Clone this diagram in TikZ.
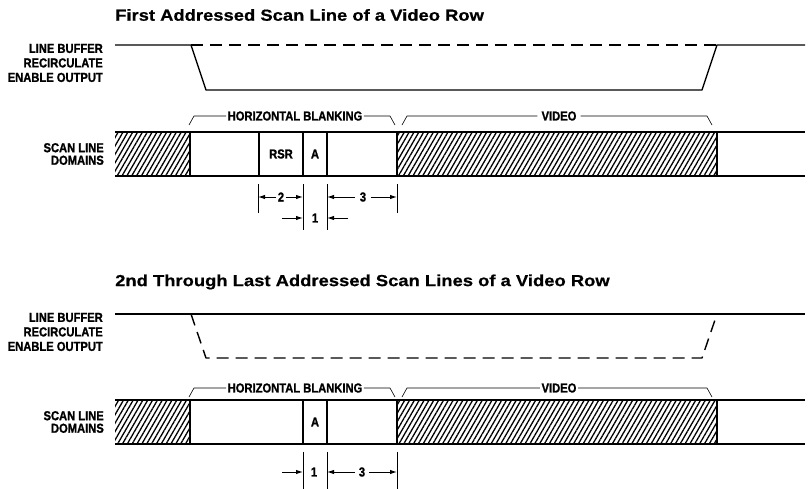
\documentclass[tikz,border=0pt]{standalone}
\usepackage{fontspec}
\setmainfont{Liberation Sans}
\newfontfamily\titlefont[FakeStretch=1.15, FakeBold=0.6]{Liberation Sans Bold}
\newfontfamily\condfont[FakeStretch=0.86, FakeBold=1.2]{Liberation Sans Bold}
\usetikzlibrary{arrows.meta, patterns.meta}

\begin{document}
\begin{tikzpicture}[
    x=1pt, y=-1pt,
    title/.style={anchor=west, inner sep=0pt, font=\titlefont\fontsize{16}{16}\selectfont},
    siglabel/.style={anchor=east, align=right, inner sep=0pt, font=\condfont\fontsize{13}{14.5}\selectfont},
    cell/.style={inner sep=1.5pt, font=\condfont\fontsize{13}{13}\selectfont},
    signal/.style={line width=1.4pt, line join=round},
    dashsig/.style={signal, dash pattern=on 12pt off 7pt},
    bar/.style={line width=1.6pt},
    divider/.style={line width=1.8pt},
    hatch/.style={pattern={Lines[angle=60, distance=4.2pt, line width=1.3pt]}},
    bracket/.style={line width=0.6pt},
    dim/.style={line width=1pt},
    dimarrow/.style={line width=1pt, -{Latex[length=7pt, width=4.5pt]}}
]
    \useasboundingbox (0,0) rectangle (809,488);

    % First addressed scan line
    \node[title] (title1) at (115,15) {First Addressed Scan Line of a Video Row};
    \node[siglabel] (lbre1) at (103,63) {LINE BUFFER\\RECIRCULATE\\ENABLE OUTPUT};
    \node[siglabel, font=\condfont\fontsize{13}{12.5}\selectfont] (domains1) at (104,154) {SCAN LINE\\DOMAINS};

    \coordinate (fall1) at (191,45);
    \coordinate (rise1) at (717,45);
    \draw[signal] (115,45) -- (fall1) -- (206,90) -- (702,90) -- (rise1) -- (805,45);
    \draw[dashsig] (fall1) -- (rise1);

    \fill[hatch] (115,132) rectangle (190,176);
    \fill[hatch] (397,132) rectangle (717,176);
    \draw[bar] (115,132) -- (805,132);
    \draw[bar] (115,176) -- (805,176);
    \foreach \x in {190,259,303,327,397,717}
        \draw[divider] (\x,132) -- (\x,176);
    \node[cell] (rsr1) at (281,154) {RSR};
    \node[cell] (a1) at (315,154) {A};

    \node[cell] (hblank1) at (295,116) {HORIZONTAL BLANKING};
    \draw[bracket] (189,125) -- (194,116) -- (hblank1.west);
    \draw[bracket] (hblank1.east) -- (390,116) -- (395,125);
    \node[cell, inner sep=4pt] (video1) at (559,116) {VIDEO};
    \draw[bracket] (402,125) -- (407,116) -- (video1.west);
    \draw[bracket] (video1.east) -- (707,116) -- (712,125);

    % Timing marks
    \draw[dim] (258,184) -- (258,213);
    \draw[dim] (303,184) -- (303,230);
    \draw[dim] (327,184) -- (327,230);
    \draw[dim] (397,184) -- (397,213);
    \node[cell] (two1) at (281,197) {2};
    \draw[dimarrow] (two1.west) -- (258,197);
    \draw[dimarrow] (two1.east) -- (303,197);
    \node[cell, inner sep=5pt] (three1) at (363,197) {3};
    \draw[dimarrow] (three1.west) -- (327,197);
    \draw[dimarrow] (three1.east) -- (397,197);
    \node[cell] (one1) at (315,218) {1};
    \draw[dimarrow] (282,218) -- (303,218);
    \draw[dimarrow] (348,218) -- (327,218);

    % 2nd through last addressed scan lines
    \begin{scope}[yshift=-268pt]
        \node[title] (title2) at (115,14) {2nd Through Last Addressed Scan Lines of a Video Row};
        \node[siglabel] (lbre2) at (103,64) {LINE BUFFER\\RECIRCULATE\\ENABLE OUTPUT};
        \node[siglabel, font=\condfont\fontsize{13}{12.5}\selectfont] (domains2) at (104,154) {SCAN LINE\\DOMAINS};

        \coordinate (fall2) at (191,46);
        \coordinate (rise2) at (717,46);
        \draw[signal] (115,46) -- (805,46);
        \draw[dashsig] (fall2) -- (206,90) -- (702,90) -- (rise2);

        \fill[hatch] (115,132) rectangle (190,176);
        \fill[hatch] (397,132) rectangle (717,176);
        \draw[bar] (115,132) -- (805,132);
        \draw[bar] (115,176) -- (805,176);
        \foreach \x in {190,303,327,397,717}
            \draw[divider] (\x,132) -- (\x,176);
        \node[cell] (a2) at (315,154) {A};

        \node[cell] (hblank2) at (295,120) {HORIZONTAL BLANKING};
        \draw[bracket] (189,129) -- (194,120) -- (hblank2.west);
        \draw[bracket] (hblank2.east) -- (390,120) -- (395,129);
        \node[cell] (video2) at (559,120) {VIDEO};
        \draw[bracket] (402,129) -- (407,120) -- (video2.west);
        \draw[bracket] (video2.east) -- (707,120) -- (712,129);

        % Timing marks
        \draw[dim] (303,184) -- (303,225);
        \draw[dim] (327,184) -- (327,225);
        \draw[dim] (397,184) -- (397,225);
        \node[cell] (one2) at (314,204) {1};
        \draw[dimarrow] (282,204) -- (303,204);
        \node[cell, inner sep=4pt] (three2) at (362,204) {3};
        \draw[dimarrow] (three2.west) -- (327,204);
        \draw[dimarrow] (three2.east) -- (397,204);
    \end{scope}
\end{tikzpicture}
\end{document}
